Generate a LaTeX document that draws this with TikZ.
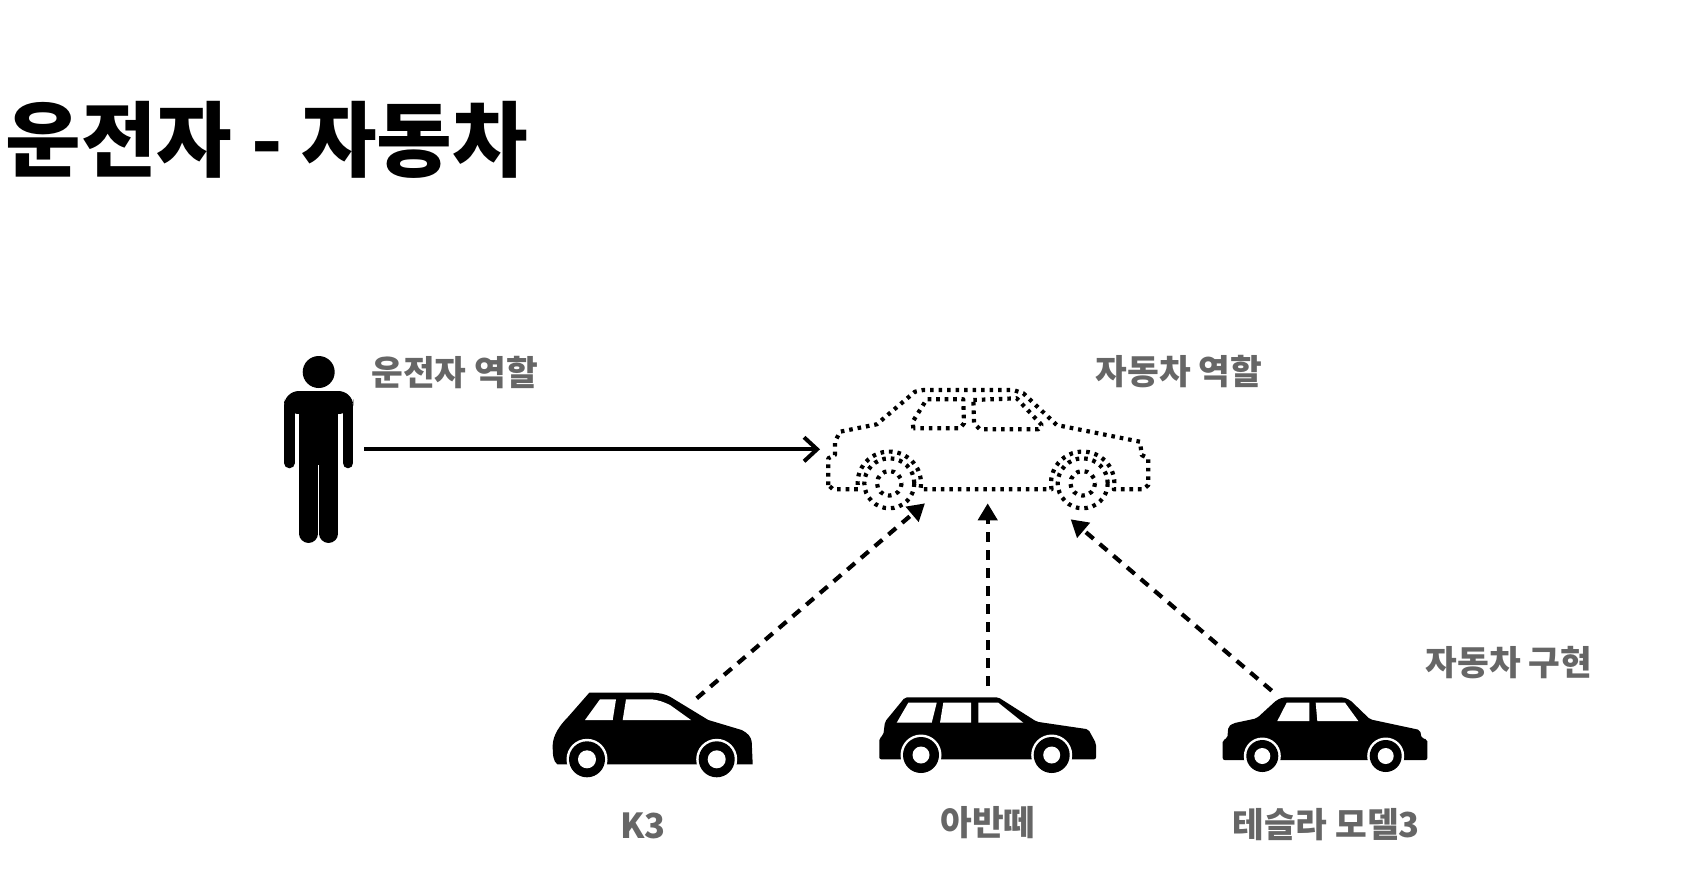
\documentclass[tikz,border=0pt]{standalone}
\usepackage{fontspec}
\newfontfamily\kofont{Noto Sans CJK KR}
\usetikzlibrary{arrows.meta}
\definecolor{labelgray}{HTML}{666666}
\tikzset{
  pagetitle/.style={font=\kofont\bfseries\fontsize{23.35pt}{28pt}\selectfont,anchor=west,inner sep=0pt},
  rolelabel/.style={font=\kofont\bfseries\fontsize{9.8pt}{12pt}\selectfont,text=labelgray,inner sep=0pt},
  limb/.style={line width=#1,line cap=round},
  dotline/.style={line width=0.42mm,dash pattern=on 0.36mm off 0.49mm,line join=round},
  uses/.style={-{Straight Barb[length=1.3mm,width=2.4mm]},line width=0.4mm},
  implements/.style={-{Triangle[length=1.7mm,width=1.9mm]},line width=0.42mm,dash pattern=on 1mm off 0.8mm},
}
\begin{document}
\begin{tikzpicture}[x=0.01cm,y=-0.01cm]
  \useasboundingbox (0,0) rectangle (1688,878);
  \node[pagetitle] (title) at (5,140) {운전자 - 자동차};
  % driver
  \fill (318.7,372) circle (16);
  \fill[rounded corners=0.15cm] (284,414) -- (284,391) -- (353.3,391) -- (353.3,414) -- cycle;
  \fill (299.3,410) rectangle (338,465);
  \draw[limb=1.06mm] (289.3,405) -- (289.3,463);
  \draw[limb=1.06mm] (348,405) -- (348,463);
  \draw[limb=1.87mm] (308.6,460) -- (308.6,533.6);
  \draw[limb=1.87mm] (328.7,460) -- (328.7,533.6);
  \node[rolelabel] (driverrole) at (454.5,372) {운전자 역할};
  % car role
  \draw[dotline] (828.3,485) -- (828.3,458.3) -- (835,455) -- (835,441.7) -- (840,431.7) -- (876.7,424.3)
    -- (915,391.7) -- (923.3,390) -- (1013.3,390) -- (1023.3,393.3) -- (1056.7,425) -- (1140,441.7)
    -- (1141.7,455) -- (1148.3,458.3) -- (1148.3,485) -- (1143.3,489.3) -- (1113.8,489.3)
    arc[start angle=11,end angle=-191,radius=31.7] -- (920.4,489.3)
    arc[start angle=11,end angle=-191,radius=31.7] -- (833,489.3) -- cycle;
  \draw[dotline] (913.3,428.3) -- (912.7,421.7) -- (926.7,399.3) -- (963.3,399.3) -- (964,423.3) -- (960,428.3) -- cycle;
  \draw[dotline] (973.3,400) -- (1016.7,398.3) -- (1041.7,425) -- (1038.3,429.3) -- (980,429.3) -- (974,423.3) -- cycle;
  \foreach \wx in {889.3,1082.7} {
    \draw[dotline] (\wx,483.3) circle (25);
    \draw[dotline] (\wx,483.3) circle (12.3);
  }
  \node[rolelabel] (carrole) at (1179,372) {자동차 역할};
  % k3
  \fill (557.3,764.3) .. controls (553,761) and (552.7,755) .. (552.7,745) .. controls (553,735) and (560,725) .. (568,717) -- (589.3,692.7)
    -- (653.3,692.7) .. controls (660,693) and (665,694) .. (670,696.7) -- (708.3,720) -- (741.7,730)
    .. controls (748,733) and (751,737) .. (751.7,741.7) -- (752.7,764.3) -- cycle;
  \fill[white] (585,720) -- (600,699.3) -- (616,699.3) -- (612.7,720) -- cycle;
  \fill[white] (622.7,720) -- (626,699.3) -- (651.7,699.3) .. controls (658,700) and (664,702) .. (670,705) -- (691,720) -- cycle;
  % avante
  \fill[rounded corners=0.02cm] (879.3,738.3) -- (883.3,735) -- (885,721.7) -- (905,697.3) -- (998.3,697.3) -- (1036.7,721.7)
    -- (1088.3,729.3) -- (1096,743.3) -- (1096,759.3) -- (879.3,759.3) -- cycle;
  \fill[white] (896.7,722.7) -- (908.3,702.7) -- (936.7,702.7) -- (931.7,722.7) -- cycle;
  \fill[white] (940,722.7) -- (943.3,702.7) -- (971,702.7) -- (971,722.7) -- cycle;
  \fill[white] (978.3,722.7) -- (978.3,702.7) -- (998.3,702.7) -- (1023.3,722.7) -- cycle;
  % tesla
  \fill[rounded corners=0.02cm] (1222.7,740) -- (1227.3,738.3) -- (1228.3,726.7) -- (1233.3,723.3) -- (1256.7,718.3) -- (1276.7,700)
    -- (1283.3,697.3) -- (1343.3,697.3) -- (1350,700) -- (1370,719.3) -- (1420,730) -- (1421.7,738.3) -- (1427.3,739.3)
    -- (1427.3,760) -- (1222.7,760) -- cycle;
  \fill[white] (1277.3,721) -- (1286.7,702.7) -- (1309.3,702.7) -- (1309.3,721) -- cycle;
  \fill[white] (1317.3,721) -- (1315.7,702.7) -- (1345,702.7) -- (1358.3,721) -- cycle;
  % wheels
  \foreach \wx/\wy/\warch/\wtyre/\whub in {587/759.3/20.5/18/9, 716.7/759.3/20.5/18/9,
      921/755/20.5/18/8.5, 1051.7/755/20.5/18/8.5, 1262.3/756/18.5/16/8, 1385.7/756/18.5/16/8} {
    \fill[white] (\wx,\wy) circle (\warch);
    \fill (\wx,\wy) circle (\wtyre);
    \fill[white] (\wx,\wy) circle (\whub);
  }
  \node[rolelabel] (k3label) at (643,826) {K3};
  \node[rolelabel] (avantelabel) at (988,823) {아반떼};
  \node[rolelabel] (teslalabel) at (1326,825) {테슬라 모델3};
  \node[rolelabel] (implrole) at (1509,663) {자동차 구현};
  % arrows
  \coordinate (driverout) at (364,449.3);
  \coordinate (rolein) at (820,449.3);
  \coordinate (k3out) at (696.7,698.3);
  \coordinate (k3in) at (925,503.3);
  \coordinate (avanteout) at (987.7,686);
  \coordinate (avantein) at (987.7,503.3);
  \coordinate (teslaout) at (1271.7,690.7);
  \coordinate (teslain) at (1070.7,519.3);
  \draw[uses] (driverout) -- (rolein);
  \draw[implements] (k3out) -- (k3in);
  \draw[implements] (avanteout) -- (avantein);
  \draw[implements] (teslaout) -- (teslain);
\end{tikzpicture}
\end{document}
